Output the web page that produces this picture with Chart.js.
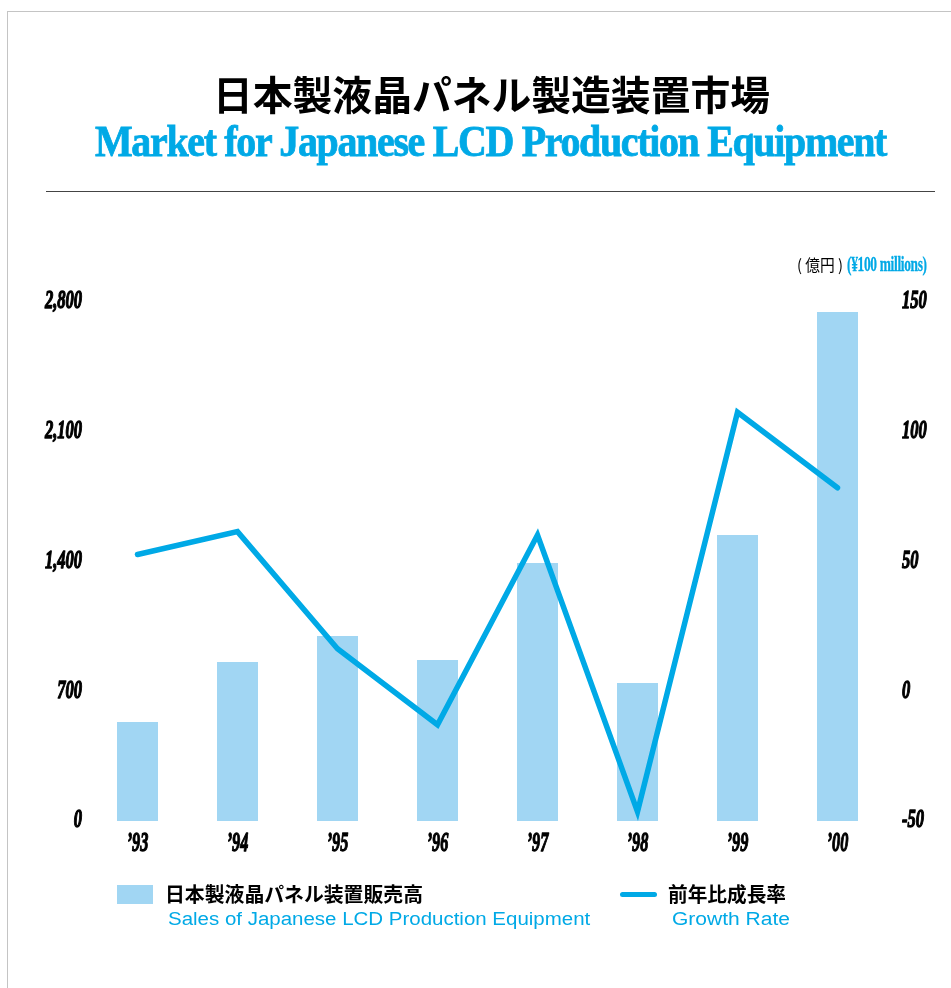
<!DOCTYPE html>
<html>
<head>
<meta charset="utf-8">
<script src="https://cdn.jsdelivr.net/npm/chart.js@4.4.1/dist/chart.umd.min.js"></script>
<style>
  html, body { margin: 0; padding: 0; background: #fff; overflow: hidden; }
  body { width: 951px; height: 988px; position: relative; }
  .frame { position: absolute; left: 7px; top: 11px; width: 2000px; height: 2000px; border: 1px solid #c4c4c4; }
  #myChart { position: absolute; left: 0; top: 0; }
  .t { position: absolute; white-space: nowrap; transform-origin: 0 0; line-height: 1; }
  .jp { font-family: "Noto Sans CJK JP", sans-serif; font-weight: 700; color: #000; }
  .blue { color: #00a9e6; }
  .serif { font-family: "Liberation Serif", serif; font-weight: 700; }
  .heavy { -webkit-text-stroke: 0.8px #00a9e6; }
  .rule { position: absolute; left: 46px; top: 191px; width: 889px; height: 0; border-top: 1.5px solid #444; }
  .swatch { position: absolute; left: 117px; top: 885px; width: 36px; height: 19px; background: #a1d6f3; }
  .lineKey { position: absolute; left: 620px; top: 892px; width: 37px; height: 5px; border-radius: 3px; background: #00a9e6; }
</style>
</head>
<body>
<div class="frame"></div>
<canvas id="myChart" width="951" height="988"></canvas>

<div class="t jp" data-w="557" style="left:213px; top:73px; font-size:40px;">日本製液晶パネル製造装置市場</div>
<div class="t serif blue heavy" data-w="791" style="left:95px; top:119px; font-size:45px; letter-spacing:-1.5px;">Market for Japanese LCD Production Equipment</div>
<div class="rule"></div>

<div class="t" data-w="46" style="left:797px; top:256px; font-size:16px; font-family:'Noto Sans CJK JP';">(&nbsp;億円&nbsp;)</div>
<div class="t serif blue" data-w="80" style="left:847px; top:254px; font-size:20px; letter-spacing:-0.5px; -webkit-text-stroke:0.3px #00a9e6;">(¥100 millions)</div>

<div class="swatch"></div>
<div class="t jp" data-w="258" style="left:165px; top:884px; font-size:20px;">日本製液晶パネル装置販売高</div>
<div class="t blue" data-w="422" style="left:168px; top:910px; font-size:18px; font-family:'Liberation Sans';">Sales of Japanese LCD Production Equipment</div>
<div class="lineKey"></div>
<div class="t jp" data-w="118" style="left:668px; top:884px; font-size:20px;">前年比成長率</div>
<div class="t blue" data-w="118" style="left:672px; top:910px; font-size:18px; font-family:'Liberation Sans';">Growth Rate</div>

<script>
// categories and series
var years = ['’93', '’94', '’95', '’96', '’97', '’98', '’99', '’00'];
var sales = [534, 858, 998, 869, 1392, 745, 1543, 2746];      // 億円
var growth = [52.7, 61.5, 16.4, -12.9, 60.2, -46.4, 107.5, 78.4]; // %
var salesAxis = { min: 0, max: 2800, step: 700 };
var growthAxis = { min: -50, max: 150, step: 50 };

var BLUE = '#00a9e6';
var BAR = '#a1d6f3';

// squeeze html labels to the widths seen in the picture
function fitText() {
    document.querySelectorAll('.t[data-w]').forEach(function (el) {
        el.style.transform = '';
        var nat = el.scrollWidth;
        el.style.transform = 'scaleX(' + (+el.dataset.w / nat) + ')';
    });
}
fitText();
if (document.fonts) document.fonts.ready.then(fitText);

// condensed heavy italic tick labels, placed via the chart's own scales
function drawLabel(ctx, text, x, y, sx, align) {
    ctx.save();
    ctx.translate(x, y);
    ctx.scale(sx, 1);
    ctx.textAlign = align;
    ctx.strokeText(text, 0, 0);
    ctx.fillText(text, 0, 0);
    ctx.restore();
}

var tickPainter = {
    id: 'tickPainter',
    afterDraw: function (chart) {
        var ctx = chart.ctx;
        ctx.save();
        ctx.fillStyle = '#000';
        ctx.strokeStyle = '#000';
        ctx.lineWidth = 1.3;
        ctx.lineJoin = 'round';
        ctx.font = 'italic bold 25px "Liberation Serif"';
        ctx.textBaseline = 'middle';

        var y = chart.scales.y;
        y.ticks.forEach(function (t) {
            drawLabel(ctx, t.value.toLocaleString('en-US'), 82, y.getPixelForValue(t.value), 0.66, 'right');
        });

        var y1 = chart.scales.y1;
        y1.ticks.forEach(function (t) {
            drawLabel(ctx, String(t.value), 902, y1.getPixelForValue(t.value), 0.66, 'left');
        });

        var x = chart.scales.x;
        ctx.font = 'italic bold 28px "Liberation Serif"';
        years.forEach(function (lab, i) {
            drawLabel(ctx, lab, x.getPixelForValue(i), 844, 0.58, 'center');
        });
        ctx.restore();
    }
};

var ctx = document.getElementById('myChart').getContext('2d');
var chart = new Chart(ctx, {
    type: 'bar',
    data: {
        labels: years,
        datasets: [{
            type: 'line',
            data: growth,
            yAxisID: 'y1',
            borderColor: BLUE,
            borderWidth: 5.5,
            borderJoinStyle: 'miter',
            borderCapStyle: 'round',
            pointRadius: 0,
            tension: 0,
            fill: false,
            order: 0
        }, {
            type: 'bar',
            data: sales,
            yAxisID: 'y',
            backgroundColor: BAR,
            borderWidth: 0,
            barPercentage: 0.41,
            categoryPercentage: 1,
            order: 1
        }]
    },
    options: {
        responsive: false,
        animation: false,
        layout: { padding: { left: 87.5, right: 63.5, top: 302, bottom: 167 } },
        plugins: { legend: { display: false }, tooltip: { enabled: false } },
        scales: {
            x: {
                offset: true,
                ticks: { display: false },
                grid: { display: false, drawTicks: false },
                border: { display: false }
            },
            y: {
                position: 'left',
                min: salesAxis.min, max: salesAxis.max,
                ticks: { display: false, stepSize: salesAxis.step },
                grid: { display: false, drawTicks: false },
                border: { display: false }
            },
            y1: {
                position: 'right',
                min: growthAxis.min, max: growthAxis.max,
                ticks: { display: false, stepSize: growthAxis.step },
                grid: { display: false, drawTicks: false },
                border: { display: false }
            }
        }
    },
    plugins: [tickPainter]
});
</script>
</body>
</html>
